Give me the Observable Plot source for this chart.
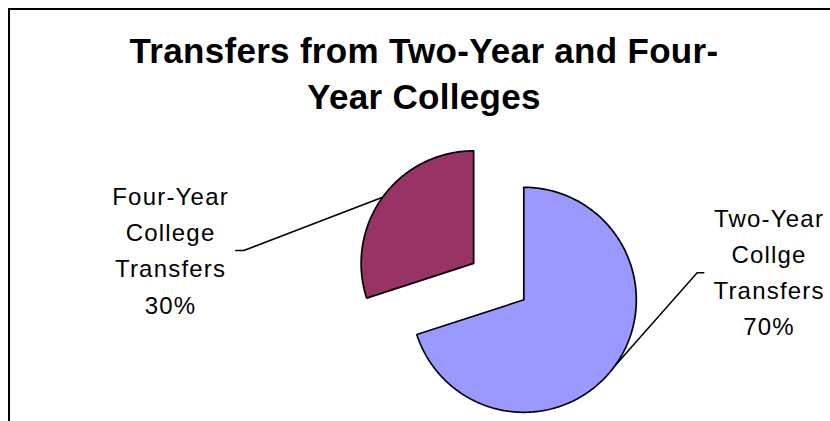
<!DOCTYPE html>
<html>
<head>
<meta charset="utf-8">
<script src="https://cdn.jsdelivr.net/npm/d3@7"></script>
<script src="https://cdn.jsdelivr.net/npm/@observablehq/plot@0.6"></script>
<style>
html, body { margin: 0; padding: 0; background: #fff; }
#page { position: relative; width: 830px; height: 421px; overflow: hidden; background: #fff; }
#frame { position: absolute; left: 8px; top: 8px; width: 840px; height: 430px; border-top: 2px solid #000; border-left: 2px solid #000; }
#title { position: absolute; left: 18px; width: 812px; top: 28px; text-align: center;
  font: bold 35px/45.6px "Liberation Sans", Arial, sans-serif; letter-spacing: 0.3px; color: #000; }
#chart { position: absolute; left: 0; top: 120px; }
</style>
</head>
<body>
<div id="page">
  <div id="frame"></div>
  <div id="title">Transfers from Two-Year and Four-<br>Year Colleges</div>
  <div id="chart"></div>
</div>
<script>
// ---- data ----
const categories = ["Two-Year Collge Transfers", "Four-Year College Transfers"];
const labelNames = ["Two-Year\nCollge\nTransfers", "Four-Year\nCollege\nTransfers"];
const shares = [70, 30];
const colors = ["#9999FF", "#993366"];

// ---- layout (pie units: 1 = pie radius) ----
const W = 830, H = 301;
const R = 112.5;           // pixel radius
const CX = 523.3, CY = 179.3; // pixel position of the pie centre inside the svg
const explode = [0, 0.551];
const labelAnchor = [[2.18, -0.317], [-3.14, -0.124]];
const leaderElbow = [[[1.541, 0.24], [1.6, 0.24]], [[-2.489, 0.438], [-2.56, 0.438]]];

const rows = categories.map((c, i) => ({name: c, label: labelNames[i] + "\n" + shares[i] + "%", share: shares[i], color: colors[i], i}));
const arcs = d3.pie().sort(null).value(d => d.share)(rows);

const slices = arcs.map(a => {
  const i = a.data.i;
  const mid = (a.startAngle + a.endAngle) / 2;
  const ox = explode[i] * Math.sin(mid), oy = explode[i] * Math.cos(mid);
  const pts = [{x: ox, y: oy}];
  const n = Math.max(2, Math.ceil((a.endAngle - a.startAngle) / 0.01));
  for (let k = 0; k <= n; ++k) {
    const t = a.startAngle + (a.endAngle - a.startAngle) * k / n;
    pts.push({x: ox + Math.sin(t), y: oy + Math.cos(t)});
  }
  pts.push({x: ox, y: oy});
  const start = {x: ox + Math.sin(mid), y: oy + Math.cos(mid)};
  const leader = [start, ...leaderElbow[i].map(([x, y]) => ({x, y}))];
  return {row: a.data, pts, leader, label: {x: labelAnchor[i][0], y: labelAnchor[i][1], text: a.data.label}};
});

const marks = [];
for (const s of slices) {
  marks.push(Plot.line(s.pts, {x: "x", y: "y", fill: s.row.color, stroke: "#000", strokeWidth: 1.7, strokeLinejoin: "miter", curve: "linear"}));
}
for (const s of slices) {
  marks.push(Plot.line(s.leader, {x: "x", y: "y", stroke: "#000", strokeWidth: 1.5, curve: "linear"}));
}
marks.push(Plot.text(slices.map(s => s.label), {
  x: "x", y: "y", text: "text", lineAnchor: "bottom", lineHeight: 1.5125,
  fontSize: 24, fill: "#000", textAnchor: "middle",
  fontFamily: "'Liberation Sans', Arial, sans-serif"
}));

const chart = Plot.plot({
  width: W, height: H,
  margin: 0,
  x: {domain: [-CX / R, (W - CX) / R], axis: null},
  y: {domain: [-(H - CY) / R, CY / R], axis: null},
  style: {background: "transparent", overflow: "visible"},
  marks
});
chart.querySelectorAll("text").forEach(t => t.style.letterSpacing = "1.2px");
document.getElementById("chart").appendChild(chart);
</script>
</body>
</html>
